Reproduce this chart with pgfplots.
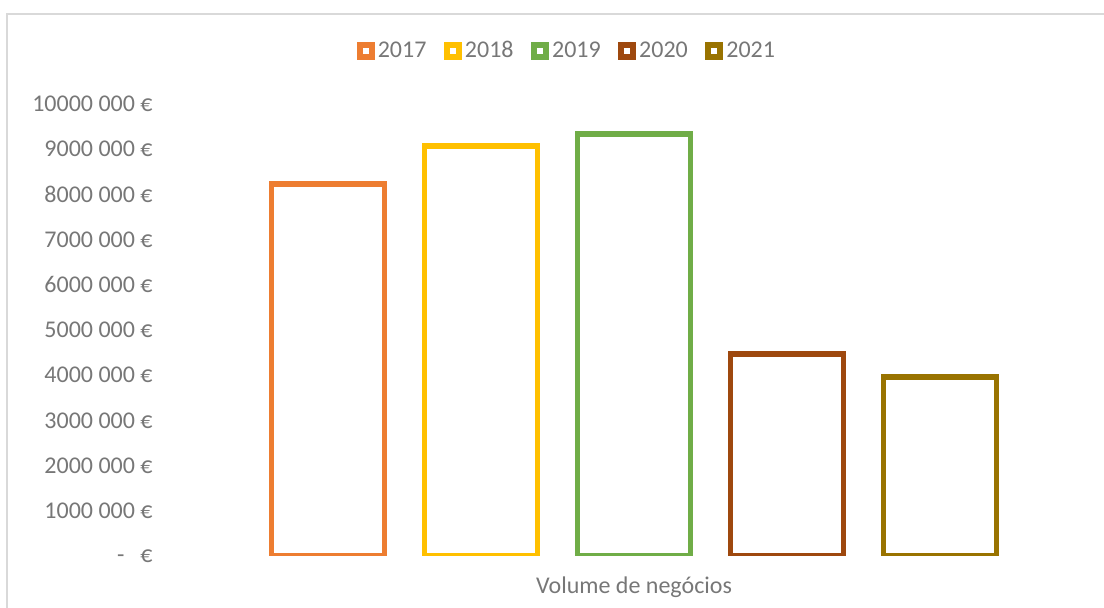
\documentclass[border=0pt]{standalone}
\usepackage{pgfplots}
\pgfplotsset{compat=1.18}
\usepackage{fontspec}
\setmainfont{Carlito}
\definecolor{c17}{HTML}{ED7D31}
\definecolor{c18}{HTML}{FFC000}
\definecolor{c19}{HTML}{70AD47}
\definecolor{c20}{HTML}{9E480E}
\definecolor{c21}{HTML}{997300}
\definecolor{txt}{HTML}{777777}
\definecolor{frame}{HTML}{D9D9D9}
\begin{document}
\begin{tikzpicture}
\useasboundingbox (0,0) rectangle (552pt,304pt);
\draw[frame, line width=0.7pt] (3.5pt,-2pt) -- (3.5pt,297pt) -- (555pt,297pt);
\begin{axis}[
  at={(79pt,26pt)}, anchor=south west,
  scale only axis,
  width=459.5pt, height=226pt,
  xmin=-1.111, xmax=4.895,
  ymin=0, ymax=10000000,
  axis line style={draw=none},
  major tick length=0pt,
  tick style={draw=none},
  ytick={0,1000000,2000000,3000000,4000000,5000000,6000000,7000000,8000000,9000000,10000000},
  yticklabels={{-\hspace{8pt}€},{1000 000 €},{2000 000 €},{3000 000 €},{4000 000 €},{5000 000 €},{6000 000 €},{7000 000 €},{8000 000 €},{9000 000 €},{10000 000 €}},
  xtick={2}, xticklabels={Volume de negócios},
  ticklabel style={font=\fontsize{12pt}{14pt}\selectfont, text=txt},
  yticklabel style={inner sep=2.5pt},
  xticklabel style={yshift=-7pt},
  scaled y ticks=false,
  legend columns=5,
  legend style={draw=none, fill=none, at={(0.4455,1.117)}, anchor=center,
    font=\fontsize{12pt}{14pt}\selectfont, text=txt,
    /tikz/every even column/.append style={column sep=7.25pt},
    nodes={inner sep=1.5pt, text height=1.6ex, text depth=0.3ex}},
  mybar/.style={ybar, bar shift=0pt, bar width=0.7386, fill=white, draw=#1,
    line width=2.75pt, line join=miter,
    legend image code/.code={\fill[#1, draw=none] (0pt,-4.5pt) rectangle (9pt,4.5pt);
      \fill[white, draw=none] (3pt,-1.5pt) rectangle (6pt,1.5pt);}},
]
\addplot[mybar=c17] coordinates {(0,8230000)};
\addlegendentry{2017}
\addplot[mybar=c18] coordinates {(1,9070000)};
\addlegendentry{2018}
\addplot[mybar=c19] coordinates {(2,9340000)};
\addlegendentry{2019}
\addplot[mybar=c20] coordinates {(3,4470000)};
\addlegendentry{2020}
\addplot[mybar=c21] coordinates {(4,3960000)};
\addlegendentry{2021}
\end{axis}
\end{tikzpicture}
\end{document}
